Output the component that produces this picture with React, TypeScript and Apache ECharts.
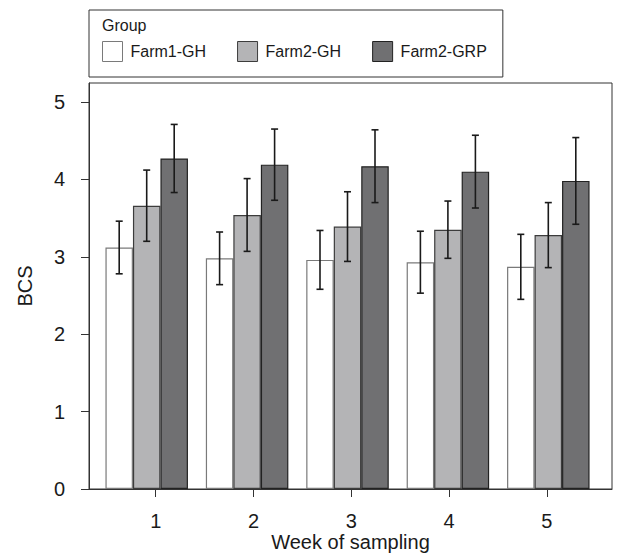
import React, { useEffect, useRef } from "react";
import * as echarts from "echarts";

const categories = ["1", "2", "3", "4", "5"];
const groups = ["Farm1-GH", "Farm2-GH", "Farm2-GRP"];
const farm1GH = [3.12, 2.98, 2.96, 2.93, 2.87];
const farm2GH = [3.66, 3.54, 3.39, 3.35, 3.28];
const farm2GRP = [4.27, 4.19, 4.17, 4.1, 3.98];
const farm1GHErr = [0.34, 0.34, 0.38, 0.4, 0.42];
const farm2GHErr = [0.46, 0.47, 0.45, 0.37, 0.42];
const farm2GRPErr = [0.44, 0.46, 0.47, 0.47, 0.56];
const yTicks = [0, 1, 2, 3, 4, 5];
const weekTicks = [1, 2, 3, 4, 5];
const legendTitle = "Group";
const xTitle = "Week of sampling";
const yTitle = "BCS";

const FONT = "Liberation Sans, Arial, sans-serif";
const TXT = "#1a1a1a";
const fills = ["#ffffff", "#b4b4b6", "#707072"];
const borders = ["#7a7a7a", "#3c3c3c", "#222222"];
const BAR_W = 27.5;
const Y_MAX = 5.245;

export default function App() {
  const ref = useRef<HTMLDivElement>(null);
  useEffect(() => {
    if (!ref.current) return;
    const chart = echarts.init(ref.current, undefined, { renderer: "svg" });
    const means = [farm1GH, farm2GH, farm2GRP];
    const errs = [farm1GHErr, farm2GHErr, farm2GRPErr];

    const barSeries = groups.map((g, k) => ({
      name: g,
      type: "bar",
      xAxisIndex: 0,
      yAxisIndex: 0,
      barWidth: BAR_W,
      barGap: "0%",
      data: means[k],
      itemStyle: { color: fills[k], borderColor: borders[k], borderWidth: 1.2 },
      z: 2,
    }));

    const errSeries = groups.map((g, k) => ({
      name: g + "-err",
      type: "custom",
      xAxisIndex: 0,
      yAxisIndex: 0,
      z: 5,
      silent: true,
      data: means[k].map((m, i) => [i, m, errs[k][i]]),
      renderItem: (params: any, api: any) => {
        const i = api.value(0);
        const m = api.value(1);
        const e = api.value(2);
        const top = api.coord([i, m + e]);
        const bot = api.coord([i, m - e]);
        const cx = top[0] + (k - 1) * BAR_W;
        const st = { stroke: "#1a1a1a", lineWidth: 1.6 };
        return {
          type: "group",
          children: [
            { type: "line", shape: { x1: cx, y1: top[1], x2: cx, y2: bot[1] }, style: st },
            { type: "line", shape: { x1: cx - 3.5, y1: top[1], x2: cx + 3.5, y2: top[1] }, style: st },
            { type: "line", shape: { x1: cx - 3.5, y1: bot[1], x2: cx + 3.5, y2: bot[1] }, style: st },
          ],
        };
      },
    }));

    chart.setOption({
      animation: false,
      backgroundColor: "#ffffff",
      textStyle: { fontFamily: FONT },
      title: {
        text: legendTitle,
        left: 102,
        top: 17,
        padding: 0,
        textStyle: { fontSize: 16, fontWeight: "normal", color: TXT, fontFamily: FONT },
      },
      legend: {
        data: groups,
        left: 89,
        top: 10,
        orient: "horizontal",
        icon: "rect",
        itemWidth: 20,
        itemHeight: 20,
        itemGap: 31,
        padding: [31, 16, 15, 13],
        borderColor: "#333333",
        borderWidth: 1,
        selectedMode: false,
        itemStyle: { borderWidth: 1 },
        textStyle: { fontSize: 16, color: TXT, fontFamily: FONT, padding: [0, 0, 0, 3] },
      },
      grid: [
        { left: 96.5, width: 502, top: 83, height: 406, containLabel: false, outerBoundsMode: "none" },
        {
          left: 89,
          width: 523,
          top: 83,
          height: 406,
          show: true,
          borderColor: "#333333",
          borderWidth: 1,
          backgroundColor: "transparent",
          containLabel: false,
          outerBoundsMode: "none",
        },
      ],
      xAxis: [
        {
          type: "category",
          gridIndex: 0,
          data: categories,
          axisLine: { show: false },
          axisTick: { show: false },
          axisLabel: { show: false },
        },
        {
          type: "value",
          gridIndex: 1,
          min: 1 - 66.7 / 97.8,
          max: 1 + (612 - 155.7) / 97.8,
          splitLine: { show: false },
          axisLine: { show: true, onZero: false, lineStyle: { color: "#333333", width: 1 } },
          axisTick: {
            show: true,
            inside: false,
            length: 8,
            customValues: weekTicks,
            lineStyle: { color: "#333333", width: 1 },
          },
          axisLabel: {
            customValues: weekTicks,
            margin: 22,
            fontSize: 20,
            color: TXT,
            fontFamily: FONT,
            formatter: (v: number) => String(v),
          },
          name: xTitle,
          nameLocation: "middle",
          nameGap: 43,
          nameMoveOverlap: false,
          nameTextStyle: { fontSize: 20, color: TXT, fontFamily: FONT },
        },
      ],
      yAxis: [
        {
          type: "value",
          gridIndex: 0,
          min: 0,
          max: Y_MAX,
          show: false,
          splitLine: { show: false },
        },
        {
          type: "value",
          gridIndex: 1,
          min: 0,
          max: Y_MAX,
          splitLine: { show: false },
          axisLine: { show: true, lineStyle: { color: "#333333", width: 1 } },
          axisTick: {
            show: true,
            inside: false,
            length: 8,
            customValues: yTicks,
            lineStyle: { color: "#333333", width: 1 },
          },
          axisLabel: {
            customValues: yTicks,
            margin: 24,
            fontSize: 20,
            color: TXT,
            fontFamily: FONT,
            formatter: (v: number) => String(v),
          },
          name: yTitle,
          nameLocation: "middle",
          nameGap: 54,
          nameRotate: 90,
          nameMoveOverlap: false,
          nameTextStyle: { fontSize: 20, color: TXT, fontFamily: FONT },
        },
      ],
      series: [...barSeries, ...errSeries],
    });
    return () => chart.dispose();
  }, []);

  return (
    <div
      ref={ref}
      style={{ position: "fixed", left: 0, top: 0, width: 617, height: 555 }}
    />
  );
}
